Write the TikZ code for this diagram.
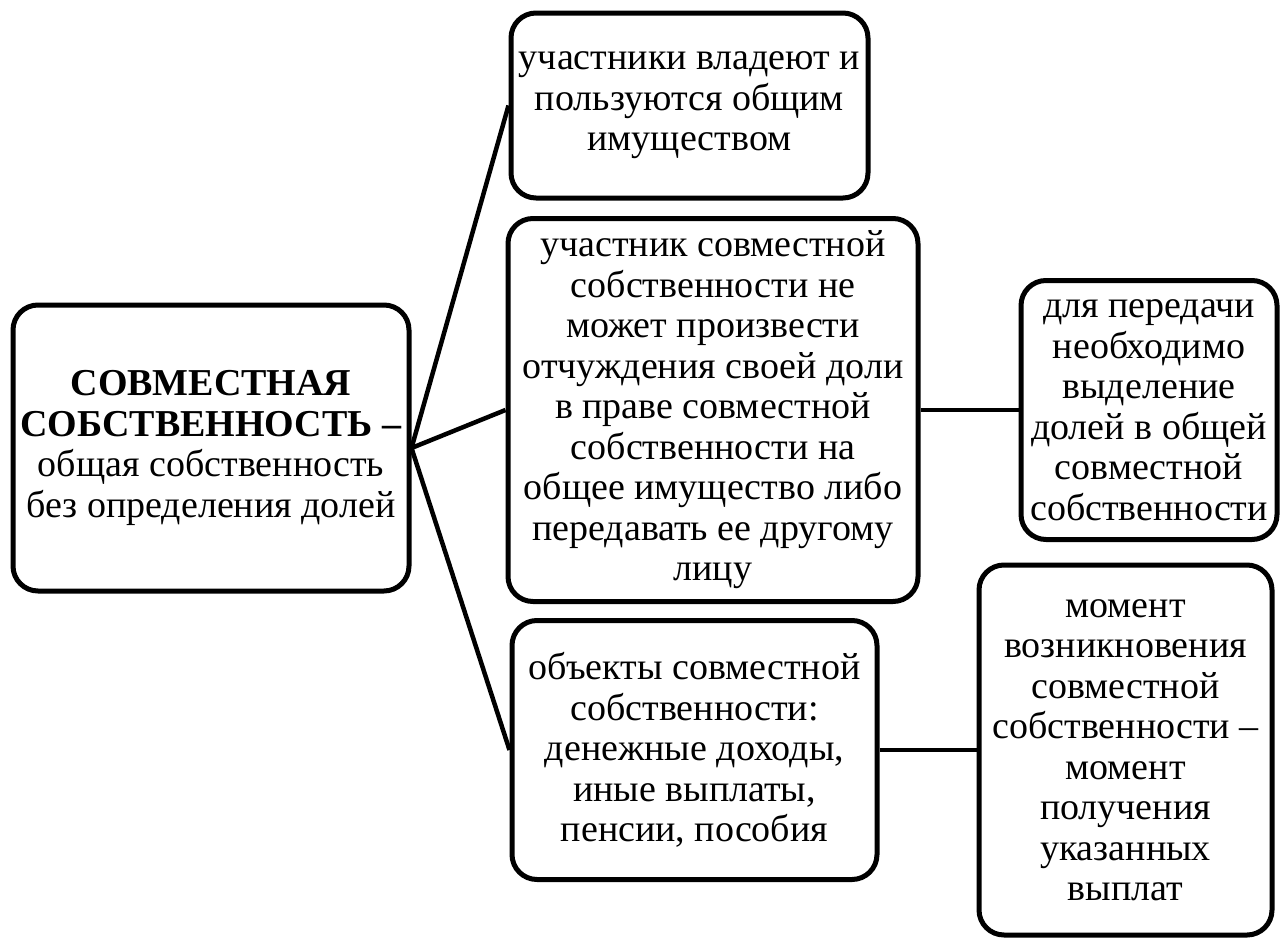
\documentclass[tikz,border=0pt]{standalone}
\usepackage{fontspec}
\setmainfont{Liberation Serif}
\begin{document}
\begin{tikzpicture}[x=1pt,y=-1pt,
  box/.style={draw, line width=5pt, rounded corners=25pt, inner sep=0pt, align=center, font=\fontsize{38}{40.5}\selectfont},
  conn/.style={line width=4.5pt}]
\useasboundingbox (0,0) rectangle (1282,937);
\node[box, minimum width=396pt, minimum height=286pt] (left) at (211,448)
  {\textbf{СОВМЕСТНАЯ}\\\textbf{СОБСТВЕННОСТЬ –}\\общая собственность\\без определения долей};
\node[box, minimum width=357pt, minimum height=185pt] (top) at (689.5,105.5)
  {участники владеют и\\пользуются общим\\имуществом};
\node[box, minimum width=410pt, minimum height=383pt] (mid) at (713,410)
  {участник совместной\\собственности не\\может произвести\\отчуждения своей доли\\в праве совместной\\собственности на\\общее имущество либо\\передавать ее другому\\лицу};
\node[box, minimum width=365pt, minimum height=259pt] (bot) at (694.5,750)
  {объекты совместной\\собственности:\\денежные доходы,\\иные выплаты,\\пенсии, пособия};
\node[box, minimum width=256pt, minimum height=259pt] (rt) at (1149,410)
  {для передачи\\необходимо\\выделение\\долей в общей\\совместной\\собственности};
\node[box, minimum width=293pt, minimum height=370pt] (rb) at (1125.5,750)
  {момент\\возникновения\\совместной\\собственности –\\момент\\получения\\указанных\\выплат};
\draw[conn] (left.east) -- (top.west);
\draw[conn] (left.east) -- (mid.west);
\draw[conn] (left.east) -- (bot.west);
\draw[conn] (mid.east) -- (rt.west);
\draw[conn] (bot.east) -- (rb.west);
\end{tikzpicture}
\end{document}
